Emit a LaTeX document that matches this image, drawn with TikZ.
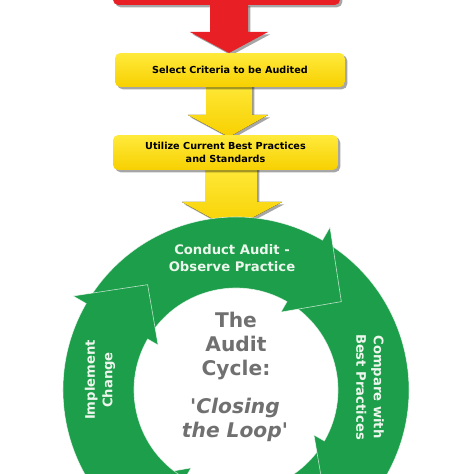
\documentclass[tikz,border=0pt]{standalone}
\usepackage{fontspec}
\setmainfont{DejaVu Sans}
\usetikzlibrary{shadows, calc, positioning}
\definecolor{auditred}{RGB}{232,32,38}
\definecolor{yellowtop}{RGB}{255,234,60}
\definecolor{yellowbot}{RGB}{247,208,0}
\definecolor{auditgreen}{RGB}{28,158,74}
\definecolor{auditgray}{RGB}{112,112,112}
\definecolor{ringtext}{RGB}{236,246,236}
\begin{document}
\begin{tikzpicture}[x=0.02cm, y=0.02cm,
    boxshadow/.style={drop shadow={shadow xshift=1.3pt, shadow yshift=-1.3pt, fill=black, opacity=0.35}},
    stepbox/.style={rectangle, rounded corners=3, top color=yellowtop, bottom color=yellowbot, boxshadow, align=center, inner sep=0pt, font=\fontsize{5.5}{7.4}\selectfont\bfseries},
    yarrow/.style={top color=yellowtop, bottom color=yellowbot, boxshadow},
    ringseg/.style={fill=auditgreen, draw=white, draw opacity=0.7, line width=0.35pt},
    ringlabel/.style={text=ringtext, align=center, inner sep=0pt, font=\fontsize{7.5}{10}\selectfont\bfseries},
    centrelabel/.style={text=auditgray, align=center, inner sep=0pt, font=\fontsize{11.5}{13.6}\selectfont\bfseries}]
    \useasboundingbox (0,0) rectangle (474,474);
    \clip (0,0) rectangle (474,474);

    \fill[auditred, boxshadow, rounded corners=3] (113,469) rectangle (340,500);
    \fill[auditred, boxshadow] (210,470) -- (210,442) -- (190,442) -- (229,421) -- (268,442) -- (248,442) -- (248,470) -- cycle;

    \fill[yarrow] (206,395) -- (206,359) -- (188,359) -- (229,337) -- (268,359) -- (252,359) -- (252,395) -- cycle;
    \fill[yarrow] (205,310) -- (205,272) -- (182,272) -- (231,245) -- (282,272) -- (257,272) -- (257,310) -- cycle;

    \node[stepbox, minimum width=4.6cm, minimum height=0.68cm] (criteria) at (230,404) {Select Criteria to be Audited};
    \node[stepbox, minimum width=4.5cm, minimum height=0.7cm] (practices) at (225.5,321.5) {Utilize Current Best Practices\\and Standards};

    \coordinate (ring) at (236,84);
    \foreach \tail/\barb [evaluate=\barb as \tip using \barb-20] in {-30/-120, 60/-30, 150/60, 240/150}
      \filldraw[ringseg] ($(ring)+(\tail:173)$) arc[start angle=\tail, end angle=\barb, radius=173]
        -- ($(ring)+(\barb:188)$) -- ($(ring)+(\tip:137.5)$) -- ($(ring)+(\barb:90)$)
        -- ($(ring)+(\barb:102)$) arc[start angle=\barb, end angle=\tail, radius=102] -- cycle;

    \node[ringlabel] (conduct) at (232,216) {Conduct Audit -\\Observe Practice};
    \node[ringlabel, rotate=90] (implement) at (100,94) {Implement\\Change};
    \node[ringlabel, rotate=-90] (compare) at (370,87) {Compare with\\Best Practices};

    \node[centrelabel] (cycle) at (236,128) {The\\Audit\\Cycle:};
    \node[centrelabel, font=\fontsize{11.5}{13.6}\selectfont\bfseries\itshape] (loop) at (235,54) {\textquotesingle Closing\\the Loop\textquotesingle};
\end{tikzpicture}
\end{document}
